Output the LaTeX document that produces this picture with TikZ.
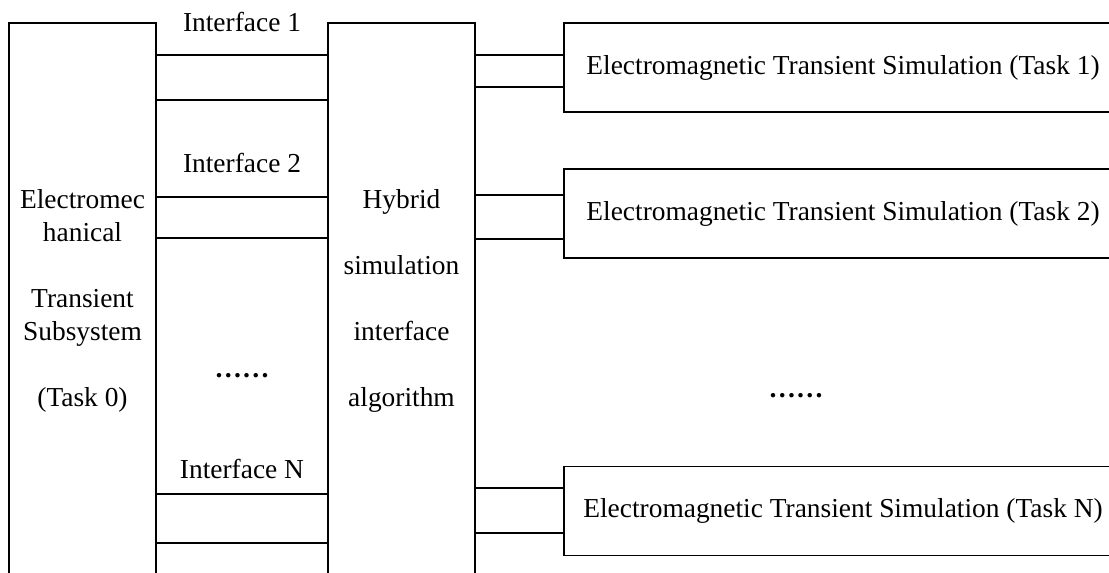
\documentclass[tikz,border=0pt]{standalone}
\usepackage{fontspec}
\setmainfont{Liberation Serif}
\tikzset{
  sysblock/.style={draw,line width=0.75pt,minimum width=2.94cm,
    minimum height=11.12cm,align=center,inner sep=0pt},
  taskblock/.style={draw,line width=0.75pt,minimum width=11.16cm,
    minimum height=1.78cm,inner sep=0pt},
  link/.style={line width=0.75pt},
  iflabel/.style={anchor=base}
}
\begin{document}
\begin{tikzpicture}[x=0.02cm,y=-0.02cm,font=\fontsize{15.6}{18.8}\selectfont]
  \useasboundingbox (0,0) rectangle (1109,572);

  % subsystem and interface algorithm
  \node[sysblock] (emt) at (82.5,301)
    {Electromec\\hanical\\[0.66cm]Transient\\Subsystem\\[0.66cm](Task 0)};
  \node[sysblock] (hyb) at (401.5,301)
    {Hybrid\\[0.66cm]simulation\\[0.66cm]interface\\[0.66cm]algorithm};

  % electromagnetic tasks
  \node[taskblock] (task1) at (843,67.5)
    {Electromagnetic Transient Simulation (Task 1)};
  \node[taskblock] (task2) at (843,213.5)
    {Electromagnetic Transient Simulation (Task 2)};
  \node[taskblock] (taskN) at (843,511)
    {Electromagnetic Transient Simulation (Task N)};

  % interfaces
  \node[iflabel] (if1) at (242,31.7) {Interface 1};
  \node[iflabel] (if2) at (242,172) {Interface 2};
  \node[iflabel,font=\fontsize{15.6}{18.8}\selectfont\bfseries] (ifdots) at (242,377) {……};
  \node[iflabel] (ifN) at (242,478) {Interface N};
  \node[iflabel,font=\fontsize{15.6}{18.8}\selectfont\bfseries] (taskdots) at (796,397) {……};

  \foreach \y in {55,100,197,238,494,543}
    \draw[link] (emt.east |- 0,\y) -- (hyb.west |- 0,\y);

  \draw[link] (hyb.east |- 0,55) -- (task1.west |- 0,55);
  \draw[link] (hyb.east |- 0,87) -- (task1.west |- 0,87);
  \draw[link] (hyb.east |- 0,195) -- (task2.west |- 0,195);
  \draw[link] (hyb.east |- 0,239) -- (task2.west |- 0,239);
  \draw[link] (hyb.east |- 0,488) -- (taskN.west |- 0,488);
  \draw[link] (hyb.east |- 0,533) -- (taskN.west |- 0,533);

\end{tikzpicture}
\end{document}
